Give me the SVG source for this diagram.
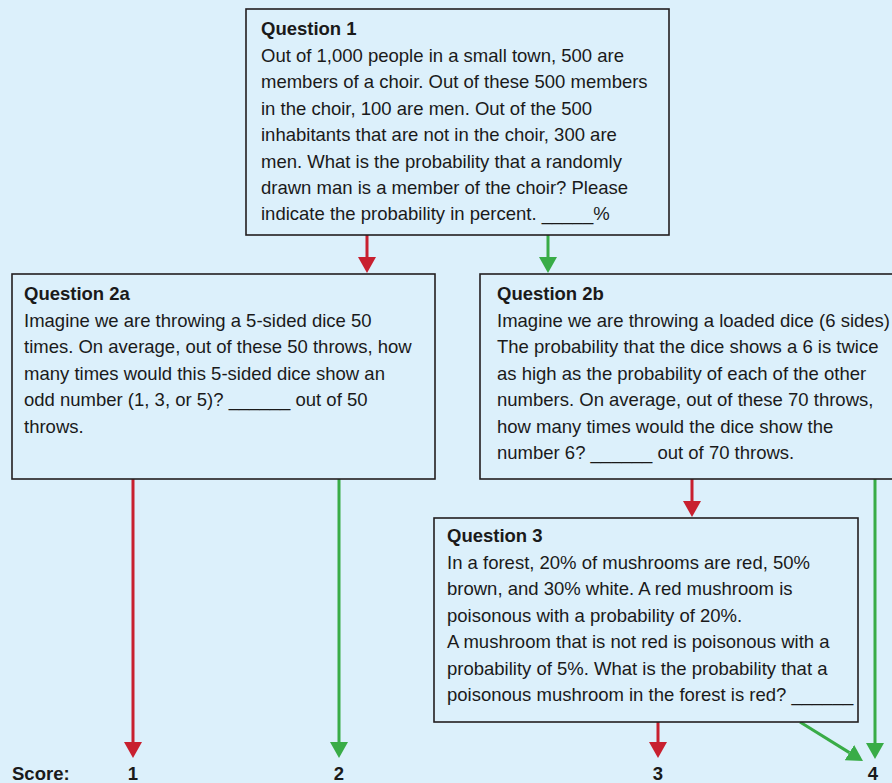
<svg xmlns="http://www.w3.org/2000/svg" width="892" height="783" viewBox="0 0 892 783">
<style>
.bg{fill:#dcf0fb}
.box{fill:#dcf0fb;stroke:#231f20;stroke-width:1.6}
text{font-family:"Liberation Sans",Arial,sans-serif;font-size:18.5px;fill:#1a1a1a}
.t{font-weight:bold}
.red{stroke:#c8202f;stroke-width:3;fill:none}
.grn{stroke:#39ac47;stroke-width:3;fill:none}
</style>
<defs>
<marker id="ar" viewBox="0 0 16 18" refX="0" refY="9" markerWidth="16" markerHeight="18" markerUnits="userSpaceOnUse" orient="auto"><path d="M0,0L16,9L0,18z" fill="#c8202f"/></marker>
<marker id="ag" viewBox="0 0 16 18" refX="0" refY="9" markerWidth="16" markerHeight="18" markerUnits="userSpaceOnUse" orient="auto"><path d="M0,0L16,9L0,18z" fill="#39ac47"/></marker>
</defs>
<rect class="bg" x="0" y="0" width="892" height="783"/>
<g id="connectors">
<path class="red" d="M367,235V257" marker-end="url(#ar)"/>
<path class="grn" d="M548,235V257" marker-end="url(#ag)"/>
<path class="red" d="M133,479V742" marker-end="url(#ar)"/>
<path class="grn" d="M339,479V742" marker-end="url(#ag)"/>
<path class="red" d="M692,479V501" marker-end="url(#ar)"/>
<path class="grn" d="M875,479V743" marker-end="url(#ag)"/>
<path class="red" d="M658,722V742" marker-end="url(#ar)"/>
<path class="grn" d="M800,722L849.4,752.6" marker-end="url(#ag)"/>
</g>
<g id="q1">
<rect class="box" x="246" y="9" width="423" height="226"/>
<text class="t" x="261" y="35">Question 1</text>
<text x="261" y="62">Out of 1,000 people in a small town, 500 are</text>
<text x="261" y="88.4">members of a choir. Out of these 500 members</text>
<text x="261" y="114.8">in the choir, 100 are men. Out of the 500</text>
<text x="261" y="141.2">inhabitants that are not in the choir, 300 are</text>
<text x="261" y="167.6">men. What is the probability that a randomly</text>
<text x="261" y="194">drawn man is a member of the choir? Please</text>
<text x="261" y="220.4">indicate the probability in percent. _____%</text>
</g>
<g id="q2a">
<rect class="box" x="12" y="274" width="423" height="205"/>
<text class="t" x="24" y="300">Question 2a</text>
<text x="24" y="326.5">Imagine we are throwing a 5-sided dice 50</text>
<text x="24" y="353">times. On average, out of these 50 throws, how</text>
<text x="24" y="379.5">many times would this 5-sided dice show an</text>
<text x="24" y="406">odd number (1, 3, or 5)? ______ out of 50</text>
<text x="24" y="432.5">throws.</text>
</g>
<g id="q2b">
<rect class="box" x="480" y="274" width="430" height="205"/>
<text class="t" x="497" y="300">Question 2b</text>
<text x="497" y="326.5" textLength="393" lengthAdjust="spacingAndGlyphs">Imagine we are throwing a loaded dice (6 sides)</text>
<text x="497" y="353">The probability that the dice shows a 6 is twice</text>
<text x="497" y="379.5">as high as the probability of each of the other</text>
<text x="497" y="406">numbers. On average, out of these 70 throws,</text>
<text x="497" y="432.5">how many times would the dice show the</text>
<text x="497" y="459">number 6? ______ out of 70 throws.</text>
</g>
<g id="q3">
<rect class="box" x="434" y="518" width="424" height="204"/>
<text class="t" x="447" y="542">Question 3</text>
<text x="447" y="568.5">In a forest, 20% of mushrooms are red, 50%</text>
<text x="447" y="595">brown, and 30% white. A red mushroom is</text>
<text x="447" y="621.5">poisonous with a probability of 20%.</text>
<text x="447" y="648">A mushroom that is not red is poisonous with a</text>
<text x="447" y="674.5">probability of 5%. What is the probability that a</text>
<text x="447" y="701">poisonous mushroom in the forest is red? ______</text>
</g>
<g id="scores">
<text class="t" x="12" y="780">Score:</text>
<text class="t" x="133" y="780" text-anchor="middle">1</text>
<text class="t" x="339" y="780" text-anchor="middle">2</text>
<text class="t" x="658" y="780" text-anchor="middle">3</text>
<text class="t" x="873" y="780" text-anchor="middle">4</text>
</g>
</svg>
